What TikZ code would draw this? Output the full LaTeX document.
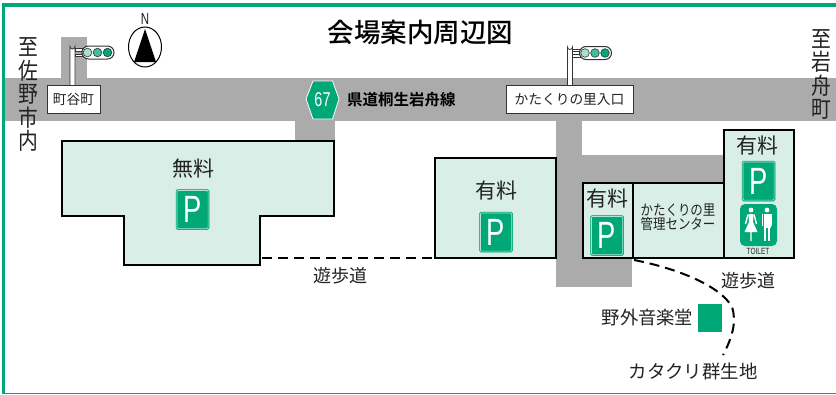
\documentclass[tikz,border=0pt]{standalone}
\usepackage{fontspec}
\setmainfont{Noto Sans CJK JP}[Scale=1]
\newfontfamily\jpbold{Noto Sans CJK JP Bold}
\newfontfamily\jpmed{Noto Sans CJK JP Medium}
\newfontfamily\jpnarrow{Noto Sans CJK JP}[FakeStretch=0.86]
\newfontfamily\latin{Liberation Sans}
\newfontfamily\latinnarrow{Liberation Sans}[FakeStretch=0.72]
\newcommand{\fs}[1]{\fontsize{#1}{#1}\selectfont}
\definecolor{frame}{HTML}{00A878}
\definecolor{road}{HTML}{ABABAB}
\definecolor{lot}{HTML}{D8EEE6}
\definecolor{ink}{HTML}{222222}
\tikzset{
  x=1pt,y=-1pt,
  roadfill/.style={fill=road,draw=none},
  lotbox/.style={fill=lot,draw=black,line width=2pt,line join=miter},
  lbl/.style={inner sep=0pt,text=ink,align=center},
  signbox/.style={fill=white,draw=black!80,line width=1pt,inner sep=0pt,text=ink},
  walk/.style={draw=black,line width=2pt,dash pattern=on 10pt off 6pt},
}
% parking sign at centre
\newcommand{\psign}[2]{%
  \filldraw[fill=frame,draw=frame,line width=.5pt,rounded corners=1.5pt] (#1-16.5,#2-20) rectangle (#1+16.5,#2+20);
  \draw[white!70!frame,line width=.7pt,rounded corners=1pt] (#1-15.6,#2-19.1) rectangle (#1+15.6,#2+19.1);
  \node[inner sep=0pt,text=white,font=\latinnarrow\fs{38}] at (#1,#2) {P};
}
% signal: pole x, head y, pole bottom
\newcommand{\sigl}[3]{%
  \filldraw[fill=white,draw=black!80,line width=.8pt] (#1-2.5,#3) -- (#1-2.5,#2-6) arc (180:0:2.5) -- (#1+2.5,#3) -- cycle;
  \filldraw[fill=white,draw=black!80,line width=.7pt] (#1+2.5,#2-4) rectangle (#1+10,#2-1.5);
  \filldraw[fill=white,draw=black!80,line width=.7pt] (#1+2.5,#2+1.5) rectangle (#1+10,#2+4);
  \filldraw[fill=white,draw=black!80,line width=1pt,rounded corners=6.5pt] (#1+9.5,#2-6.5) rectangle (#1+41.5,#2+6.5);
  \filldraw[fill=frame!35,draw=black!80,line width=.6pt] (#1+15,#2) circle (4.3);
  \filldraw[fill=frame!75,draw=black!80,line width=.6pt] (#1+25,#2) circle (4.3);
  \filldraw[fill=frame,draw=black!80,line width=.6pt] (#1+35,#2) circle (4.3);
}
\begin{document}
\begin{tikzpicture}
\useasboundingbox (0,0) rectangle (836,394);
\fill[white] (0,0) rectangle (836,394);
% roads
\fill[roadfill] (5,78) rectangle (836,121);
\fill[roadfill] (61,37) rectangle (87,78);
\fill[roadfill] (295,121) rectangle (335,141);
\fill[roadfill] (556,121) rectangle (582,287);
\fill[roadfill] (582,259) rectangle (632,287);
\fill[roadfill] (582,155) rectangle (724,183);
% frame
\draw[frame,line width=3.4pt] (3.3,394) -- (3.3,5) -- (836,5);
\draw[frame,line width=1pt] (3.3,393.5) -- (836,393.5);
% title
\node[lbl,font=\jpmed\fs{26.5},text=black] (title) at (420.5,32) {会場案内周辺図};
% side labels
\node[lbl,font=\jpnarrow\fs{23},align=center,text width=24pt] (west) at (28,94.5) {\baselineskip=23.5pt 至\\佐\\野\\市\\内};
\node[lbl,font=\jpnarrow\fs{23},align=center,text width=24pt] (east) at (821,74) {\baselineskip=23.5pt 至\\岩\\舟\\町};
% compass
\filldraw[fill=white,draw=black,line width=1pt] (145,47) ellipse (16.5 and 20);
\fill[black] (145,29) -- (156,62) -- (134,62) -- cycle;
\node[lbl,font=\latinnarrow\fs{16}] (north) at (145,19) {N};
% signals
\sigl{72.5}{52.5}{87}
\sigl{570}{53}{87}
\node[signbox,minimum width=53pt,minimum height=28pt,font=\fs{13.7}] (machiya) at (73.5,99) {町谷町};
\node[signbox,minimum width=127pt,minimum height=27.5pt,font=\fs{13.7}] (katakuri) at (569.5,99.5) {かたくりの里入口};
% route shield
\filldraw[fill=frame,draw=white,line width=.8pt] (306,99) -- (313,81) -- (332.5,81) -- (339,99) -- (332.5,119) -- (313,119) -- cycle;
\node[inner sep=0pt,text=white,font=\latinnarrow\fs{20}] (r67) at (322.5,100) {67};
\node[lbl,font=\jpbold\fs{15.5},anchor=west,text=black] (route) at (347,100) {県道桐生岩舟線};
% lots
\filldraw[lotbox] (62,141) -- (334,141) -- (334,216) -- (260,216) -- (260,265) -- (124,265) -- (124,216) -- (62,216) -- cycle;
\filldraw[lotbox] (435,158) rectangle (556,258);
\filldraw[lotbox] (633,183) rectangle (724,258);
\filldraw[lotbox] (583,183) rectangle (633,258);
\filldraw[lotbox] (724,130) rectangle (794,258);
\node[lbl,font=\fs{21}] (free) at (193,168.5) {無料};
\node[lbl,font=\fs{21}] (paid1) at (496,191) {有料};
\node[lbl,font=\fs{21}] (paid2) at (607.5,199) {有料};
\node[lbl,font=\fs{21}] (paid3) at (757,146) {有料};
\psign{192.5}{209.5}
\psign{496}{232}
\psign{607}{235.5}
\psign{758.5}{181}
\node[lbl,font=\jpnarrow\fs{14.5},align=center] (center) at (678,217.5) {\baselineskip=16pt かたくりの里\\管理センター};
% toilet
\filldraw[fill=frame,draw=none,rounded corners=5pt] (740,204) rectangle (777,246);
\foreach \cx in {751,767}{\fill[white] (\cx,210) circle (2.4);}
\fill[white] (748.5,214) -- (753.5,214) -- (753,222) -- (757.5,232) -- (744.5,232) -- (749,222) -- cycle;
\draw[white,line width=1.4pt] (751,232) -- (751,241) (748,214.5) -- (745.5,224) (754,214.5) -- (756.5,224);
\fill[white] (763.5,213.5) rectangle (770.5,228);
\draw[white,line width=2.4pt] (765,228) -- (765,241) (769,228) -- (769,241);
\draw[white,line width=1.4pt] (762.5,214) -- (762.5,226) (771.5,214) -- (771.5,226);
\node[lbl,font=\latinnarrow\fs{9}] (toilet) at (758,251.5) {TOILET};
% walkways
\coordinate (w1) at (262,258);
\coordinate (w2) at (435,258);
\draw[walk] (w1) -- (w2);
\coordinate (w3) at (634,260);
\coordinate (w4) at (723,355);
\draw[walk] (w3) .. controls (675,268) and (720,285) .. (732,307) .. controls (737,322) and (732,338) .. (w4);
\node[lbl,font=\fs{18}] (walk1) at (340,276) {遊歩道};
\node[lbl,font=\fs{18}] (walk2) at (748,281) {遊歩道};
\node[lbl,font=\fs{18.3}] (stage) at (647.5,318) {野外音楽堂};
\fill[frame] (698,304) rectangle (722,332);
\node[lbl,font=\fs{18.4}] (colony) at (693,372) {カタクリ群生地};
\end{tikzpicture}
\end{document}
